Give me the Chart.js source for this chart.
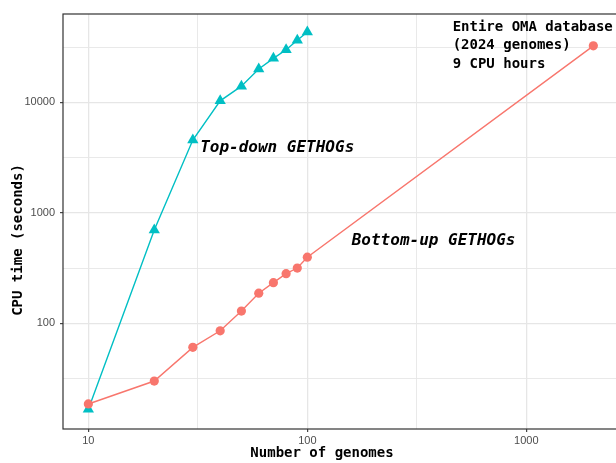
<!DOCTYPE html>
<html>
<head>
<meta charset="utf-8">
<script src="https://cdn.jsdelivr.net/npm/chart.js@4.4.1/dist/chart.umd.min.js"></script>
<style>
  html, body { margin: 0; padding: 0; background: #fff; overflow: hidden; }
  #wrap { width: 616px; height: 463px; overflow: hidden; position: relative; }
  #cpuChart { position: absolute; left: 0; top: 0; }
</style>
</head>
<body>
<div id="wrap"><canvas id="cpuChart" width="619" height="463"></canvas></div>
<script>
// number of genomes
var genomesTopDown = [10, 20, 30, 40, 50, 60, 70, 80, 90, 100];
var genomesBottomUp = [10, 20, 30, 40, 50, 60, 70, 80, 90, 100, 2024];
// CPU time in seconds
var topDownTime = [16.7, 700, 4550, 10300, 14000, 20000, 25000, 29900, 36400, 43300];
var bottomUpTime = [18.6, 30, 60.5, 85.5, 129, 187, 233, 281, 316, 396, 32400];

var xMajor = [10, 100, 1000];
var xMinor = [31.62, 316.2];
var yMajor = [100, 1000, 10000];
var yMinor = [31.62, 316.2, 3162, 31623];

// annotations, anchored in data coordinates
var notes = [
  { text: ["Top-down GETHOGs"], x: 32.4, y: 3840, italic: true },
  { text: ["Bottom-up GETHOGs"], x: 159.5, y: 555, italic: true },
  { text: ["Entire OMA database", "(2024 genomes)", "9 CPU hours"], x: 461, y: 47800, italic: false }
];

function toPoints(xs, ys) {
  var pts = [];
  for (var i = 0; i < xs.length; i++) pts.push({ x: xs[i], y: ys[i] });
  return pts;
}

function isMajor(v, majors) {
  for (var i = 0; i < majors.length; i++) {
    if (Math.abs(v - majors[i]) < 1e-6 * majors[i]) return true;
  }
  return false;
}

function gridFor(majors) {
  return {
    color: '#E6E6E6',
    lineWidth: function (c) { return c.tick && isMajor(c.tick.value, majors) ? 1.3 : 0.9; },
    drawTicks: true,
    tickLength: 3,
    tickWidth: 1.1,
    tickColor: function (c) { return c.tick && isMajor(c.tick.value, majors) ? '#333333' : 'rgba(0,0,0,0)'; }
  };
}

var tickFont = { family: "'Liberation Sans', Arial, sans-serif", size: 11 };

// panel border, axis titles and text labels
var decorPlugin = {
  id: 'decor',
  beforeDatasetsDraw: function (chart) {
    var a = chart.chartArea, ctx = chart.ctx;
    ctx.save();
    ctx.strokeStyle = '#333333';
    ctx.lineWidth = 1.2;
    ctx.strokeRect(a.left, a.top, a.right - a.left, a.bottom - a.top);
    ctx.restore();
  },
  afterDraw: function (chart) {
    var ctx = chart.ctx;
    var xs = chart.scales.x, ys = chart.scales.y;
    ctx.save();
    ctx.fillStyle = '#000';
    ctx.textBaseline = 'middle';
    ctx.font = "bold 14px 'DejaVu Sans Mono', monospace";
    ctx.textAlign = 'center';
    ctx.fillText('Number of genomes', 322, 453);
    ctx.save();
    ctx.translate(18, 240);
    ctx.rotate(-Math.PI / 2);
    ctx.fillText('CPU time (seconds)', 0, 0);
    ctx.restore();

    ctx.textAlign = 'left';
    notes.forEach(function (n) {
      ctx.font = n.italic ? "italic bold 16px 'DejaVu Sans Mono', monospace"
                          : "bold 14px 'DejaVu Sans Mono', monospace";
      var px = xs.getPixelForValue(n.x);
      var py = ys.getPixelForValue(n.y);
      n.text.forEach(function (line, i) {
        ctx.fillText(line, px, py + i * 18.6);
      });
    });
    ctx.restore();
  }
};

new Chart(document.getElementById('cpuChart'), {
  type: 'scatter',
  data: {
    datasets: [
      {
        label: 'Bottom-up GETHOGs',
        data: toPoints(genomesBottomUp, bottomUpTime),
        showLine: true,
        borderColor: '#F8766D',
        backgroundColor: '#F8766D',
        borderWidth: 1.4,
        pointStyle: 'circle',
        pointRadius: 4.6,
        pointBorderWidth: 0
      },
      {
        label: 'Top-down GETHOGs',
        data: toPoints(genomesTopDown, topDownTime),
        showLine: true,
        borderColor: '#00BFC4',
        backgroundColor: '#00BFC4',
        borderWidth: 1.4,
        pointStyle: 'triangle',
        pointRadius: 6.5,
        pointBorderWidth: 0
      }
    ]
  },
  options: {
    responsive: false,
    animation: false,
    devicePixelRatio: 1,
    layout: { autoPadding: false, padding: { top: 14, left: 0, right: 0, bottom: 0 } },
    plugins: { legend: { display: false }, tooltip: { enabled: false } },
    scales: {
      x: {
        type: 'logarithmic',
        min: 7.66,
        max: 2651,
        afterBuildTicks: function (s) {
          s.ticks = xMajor.concat(xMinor).sort(function (a, b) { return a - b; }).map(function (v) { return { value: v }; });
        },
        afterFit: function (s) { s.height = 34; s.paddingLeft = 0; s.paddingRight = 0; },
        grid: gridFor(xMajor),
        border: { display: false },
        ticks: {
          autoSkip: false,
          maxRotation: 0,
          padding: 2,
          color: '#4D4D4D',
          font: tickFont,
          callback: function (v) { return isMajor(v, xMajor) ? String(v) : ''; }
        }
      },
      y: {
        type: 'logarithmic',
        min: 11.04,
        max: 62950,
        afterBuildTicks: function (s) {
          s.ticks = yMajor.concat(yMinor).sort(function (a, b) { return a - b; }).map(function (v) { return { value: v }; });
        },
        afterFit: function (s) { s.width = 63; s.paddingTop = 0; s.paddingBottom = 0; },
        grid: gridFor(yMajor),
        border: { display: false },
        ticks: {
          autoSkip: false,
          padding: 5,
          color: '#4D4D4D',
          font: tickFont,
          callback: function (v) { return isMajor(v, yMajor) ? String(v) : ''; }
        }
      }
    }
  },
  plugins: [decorPlugin]
});
</script>
</body>
</html>
